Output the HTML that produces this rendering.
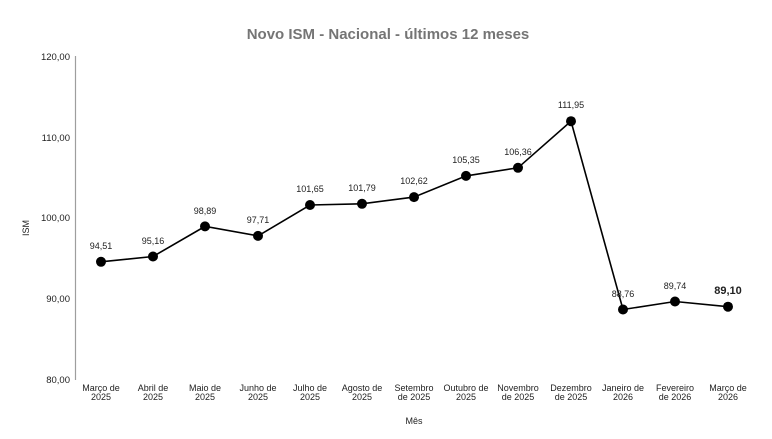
<!DOCTYPE html>
<html><head><meta charset="utf-8"><style>
body{margin:0;background:#fff;}
svg{display:block;font-family:"Liberation Sans",Arial,sans-serif;}
</style></head><body>
<svg width="772" height="439" viewBox="0 0 772 439">
<text x="388" y="39" text-anchor="middle" font-size="15" font-weight="bold" fill="#757575">Novo ISM - Nacional - últimos 12 meses</text>
<line x1="75.5" y1="56" x2="75.5" y2="380" stroke="#9e9e9e" stroke-width="1.2"/>
<g font-size="9.5" fill="#222" text-anchor="end">
<text x="70" y="60">120,00</text>
<text x="70" y="141">110,00</text>
<text x="70" y="221">100,00</text>
<text x="70" y="302">90,00</text>
<text x="70" y="383">80,00</text>
</g>
<text transform="translate(29,228) rotate(-90)" text-anchor="middle" font-size="9" fill="#222">ISM</text>
<text x="414" y="424" text-anchor="middle" font-size="9" fill="#222">Mês</text>
<g font-size="9" fill="#222" text-anchor="middle">
<text x="101" y="391">Março de</text><text x="101" y="400">2025</text>
<text x="153" y="391">Abril de</text><text x="153" y="400">2025</text>
<text x="205" y="391">Maio de</text><text x="205" y="400">2025</text>
<text x="258" y="391">Junho de</text><text x="258" y="400">2025</text>
<text x="310" y="391">Julho de</text><text x="310" y="400">2025</text>
<text x="362" y="391">Agosto de</text><text x="362" y="400">2025</text>
<text x="414" y="391">Setembro</text><text x="414" y="400">de 2025</text>
<text x="466" y="391">Outubro de</text><text x="466" y="400">2025</text>
<text x="518" y="391">Novembro</text><text x="518" y="400">de 2025</text>
<text x="571" y="391">Dezembro</text><text x="571" y="400">de 2025</text>
<text x="623" y="391">Janeiro de</text><text x="623" y="400">2026</text>
<text x="675" y="391">Fevereiro</text><text x="675" y="400">de 2026</text>
<text x="728" y="391">Março de</text><text x="728" y="400">2026</text>
</g>
<polyline fill="none" stroke="#000" stroke-width="1.6" points="101,261.8 153,256.5 205,226.4 258,235.9 310,205 362,203.8 414,197.1 466,175.9 518,167.8 571,121.2 623,309.5 675,301.5 728,306.7"/>
<g fill="#000">
<circle cx="101" cy="261.8" r="5"/><circle cx="153" cy="256.5" r="5"/><circle cx="205" cy="226.4" r="5"/><circle cx="258" cy="235.9" r="5"/><circle cx="310" cy="205" r="5"/><circle cx="362" cy="203.8" r="5"/><circle cx="414" cy="197.1" r="5"/><circle cx="466" cy="175.9" r="5"/><circle cx="518" cy="167.8" r="5"/><circle cx="571" cy="121.2" r="5"/><circle cx="623" cy="309.5" r="5"/><circle cx="675" cy="301.5" r="5"/><circle cx="728" cy="306.7" r="5"/>
</g>
<g font-size="9" fill="#222" text-anchor="middle">
<text x="101" y="249">94,51</text>
<text x="153" y="244">95,16</text>
<text x="205" y="214">98,89</text>
<text x="258" y="223">97,71</text>
<text x="310" y="192">101,65</text>
<text x="362" y="191">101,79</text>
<text x="414" y="184">102,62</text>
<text x="466" y="163">105,35</text>
<text x="518" y="155">106,36</text>
<text x="571" y="108">111,95</text>
<text x="623" y="297">88,76</text>
<text x="675" y="289">89,74</text>
<text x="728" y="294" font-weight="bold" font-size="11">89,10</text>
</g>
</svg>
</body></html>
